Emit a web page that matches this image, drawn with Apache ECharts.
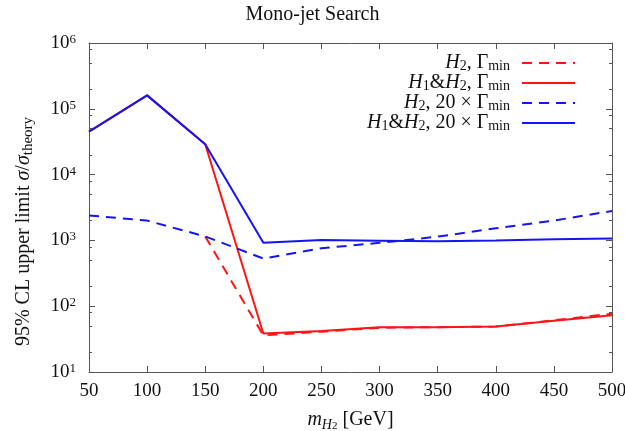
<!DOCTYPE html>
<html>
<head>
<meta charset="utf-8">
<script src="https://cdn.jsdelivr.net/npm/echarts@6/dist/echarts.min.js"></script>
<style>
  html, body { margin: 0; padding: 0; background: #fff; }
  #chart { width: 625px; height: 431px; }
</style>
</head>
<body>
<div id="chart"></div>
<script>
// Mono-jet search: 95% CL upper limit on sigma/sigma_theory vs m_H2
const massGeV = [50, 100, 150, 200, 250, 300, 350, 400, 450, 500];

const h2GammaMin     = [null, null, 1150, 36, 41, 47, 48, 49, 61, 77];
const h1h2GammaMin   = [45000, 160000, 29000, 38.5, 42, 48, 48, 49, 60, 73];
const h2Gamma20      = [2400, 2000, 1150, 530, 760, 920, 1140, 1530, 2000, 2800];
const h1h2Gamma20    = [45000, 160000, 29000, 920, 1010, 990, 970, 1000, 1040, 1070];

const seriesNames = ['H2, Gmin', 'H1&H2, Gmin', 'H2, 20xGmin', 'H1&H2, 20xGmin'];
const legendLabels = {
  'H2, Gmin': '{i|H}{s|2}{t|, Γ}{s|min}',
  'H1&H2, Gmin': '{i|H}{s|1}{t|&}{i|H}{s|2}{t|, Γ}{s|min}',
  'H2, 20xGmin': '{i|H}{s|2}{t|, 20 × Γ}{s|min}',
  'H1&H2, 20xGmin': '{i|H}{s|1}{t|&}{i|H}{s|2}{t|, 20 × Γ}{s|min}'
};

// log-axis minor ticks (2, 5, 8 per decade)
const minorTickValues = [20, 50, 80, 200, 500, 800, 2000, 5000, 8000,
  20000, 50000, 80000, 200000, 500000, 800000];

const RED = '#ff1414';
const BLUE = '#1414f5';
const FRAME = '#555555';
const FONT = '"Liberation Serif", "DejaVu Serif", serif';
const DASH = [10, 7];

const chart = echarts.init(document.getElementById('chart'), null, { renderer: 'canvas' });

function pairs(values) {
  return massGeV.map((m, i) => [m, values[i]]);
}

const yCommon = {
  type: 'log',
  logBase: 10,
  min: 10,
  max: 1000000,
  splitNumber: 5,
  splitLine: { show: false }
};

const xCommon = {
  type: 'value',
  min: 50,
  max: 500,
  interval: 50,
  splitLine: { show: false }
};

const option = {
  animation: false,
  backgroundColor: '#ffffff',
  textStyle: { fontFamily: FONT },
  title: {
    text: 'Mono-jet Search',
    left: 'center',
    top: 5,
    padding: 0,
    textStyle: { fontFamily: FONT, fontSize: 20, fontWeight: 'normal', color: '#111' }
  },
  grid: {
    left: 89, right: 13, top: 43, bottom: 59,
    containLabel: false,
    outerBoundsMode: 'none'
  },
  legend: {
    orient: 'vertical',
    right: 44,
    top: 48,
    align: 'right',
    itemWidth: 53,
    itemHeight: 14,
    itemGap: 0,
    selectedMode: false,
    data: seriesNames,
    formatter: name => legendLabels[name],
    itemStyle: { opacity: 0, color: 'rgba(0,0,0,0)', borderWidth: 0 },
    textStyle: {
      fontFamily: FONT,
      color: '#111',
      padding: [0, 7, 0, 0],
      rich: {
        i: { fontFamily: FONT, fontSize: 20, fontStyle: 'italic', color: '#111', lineHeight: 20 },
        t: { fontFamily: FONT, fontSize: 20, color: '#111', lineHeight: 20 },
        s: { fontFamily: FONT, fontSize: 14, color: '#111', lineHeight: 10, verticalAlign: 'bottom' }
      }
    }
  },
  xAxis: [
    Object.assign({}, xCommon, {
      position: 'bottom',
      name: '{m|m}{h|H}{n|2}{t| [GeV]}',
      nameLocation: 'middle',
      nameGap: 36,
      nameTextStyle: {
        rich: {
          m: { fontFamily: FONT, fontSize: 20, fontStyle: 'italic', color: '#111', lineHeight: 24 },
          h: { fontFamily: FONT, fontSize: 14, fontStyle: 'italic', color: '#111', lineHeight: 14, verticalAlign: 'bottom' },
          n: { fontFamily: FONT, fontSize: 11, color: '#111', lineHeight: 8, verticalAlign: 'bottom' },
          t: { fontFamily: FONT, fontSize: 20, color: '#111', lineHeight: 24 }
        }
      },
      axisLine: { show: true, lineStyle: { color: FRAME, width: 1 } },
      axisTick: { show: true, inside: true, length: 6, lineStyle: { color: FRAME } },
      axisLabel: { show: true, margin: 10, fontFamily: FONT, fontSize: 19, color: '#111' }
    }),
    Object.assign({}, xCommon, {
      position: 'top',
      axisLine: { show: true, lineStyle: { color: FRAME, width: 1 } },
      axisTick: { show: true, inside: true, length: 6, lineStyle: { color: FRAME } },
      axisLabel: { show: false }
    })
  ],
  yAxis: [
    Object.assign({}, yCommon, {
      position: 'left',
      name: '{t|95% CL upper limit }{i|σ}{t|/}{i|σ}{s|theory}',
      nameLocation: 'middle',
      nameRotate: 90,
      nameGap: 53,
      nameTextStyle: {
        padding: [0, 48, 0, 0],
        rich: {
          t: { fontFamily: FONT, fontSize: 20, color: '#111', lineHeight: 24 },
          i: { fontFamily: FONT, fontSize: 20, fontStyle: 'italic', color: '#111', lineHeight: 24 },
          s: { fontFamily: FONT, fontSize: 15, color: '#111', lineHeight: 14, verticalAlign: 'bottom' }
        }
      },
      axisLine: { show: true, lineStyle: { color: FRAME, width: 1 } },
      axisTick: { show: true, inside: true, length: 6, lineStyle: { color: FRAME } },
      axisLabel: {
        show: true,
        margin: 13,
        formatter: v => '{b|10}{p|' + Math.round(Math.log10(v)) + '}',
        rich: {
          b: { fontFamily: FONT, fontSize: 19, color: '#111', lineHeight: 20 },
          p: { fontFamily: FONT, fontSize: 13, color: '#111', lineHeight: 14, verticalAlign: 'top' }
        }
      }
    }),
    Object.assign({}, yCommon, {
      position: 'left',
      axisLine: { show: false },
      axisTick: { show: true, inside: true, length: 3, customValues: minorTickValues, lineStyle: { color: FRAME } },
      axisLabel: { show: false }
    }),
    Object.assign({}, yCommon, {
      position: 'right',
      axisLine: { show: true, lineStyle: { color: FRAME, width: 1 } },
      axisTick: { show: true, inside: true, length: 6, lineStyle: { color: FRAME } },
      axisLabel: { show: false }
    }),
    Object.assign({}, yCommon, {
      position: 'right',
      axisLine: { show: false },
      axisTick: { show: true, inside: true, length: 3, customValues: minorTickValues, lineStyle: { color: FRAME } },
      axisLabel: { show: false }
    })
  ],
  series: [
    {
      name: seriesNames[0], type: 'line', xAxisIndex: 0, yAxisIndex: 0,
      data: pairs(h2GammaMin), symbol: 'none', connectNulls: false,
      lineStyle: { color: RED, width: 2, type: DASH }, itemStyle: { color: RED }
    },
    {
      name: seriesNames[1], type: 'line', xAxisIndex: 0, yAxisIndex: 0,
      data: pairs(h1h2GammaMin), symbol: 'none',
      lineStyle: { color: RED, width: 2 }, itemStyle: { color: RED }
    },
    {
      name: seriesNames[2], type: 'line', xAxisIndex: 0, yAxisIndex: 0,
      data: pairs(h2Gamma20), symbol: 'none',
      lineStyle: { color: BLUE, width: 2, type: DASH }, itemStyle: { color: BLUE }
    },
    {
      name: seriesNames[3], type: 'line', xAxisIndex: 0, yAxisIndex: 0,
      data: pairs(h1h2Gamma20), symbol: 'none',
      lineStyle: { color: BLUE, width: 2 }, itemStyle: { color: BLUE }
    }
  ]
};

chart.setOption(option);
</script>
</body>
</html>
